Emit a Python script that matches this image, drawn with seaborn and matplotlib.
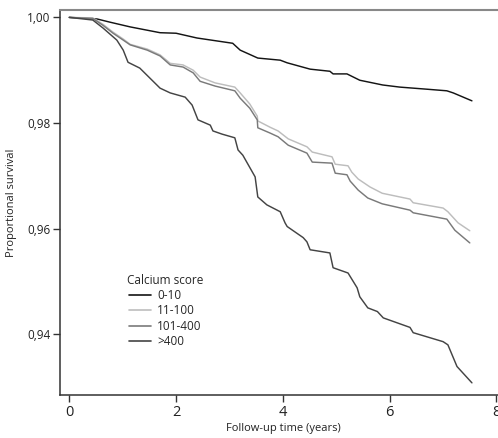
import matplotlib
matplotlib.use("Agg")
import matplotlib.pyplot as plt
import seaborn as sns
import pandas as pd
from matplotlib.lines import Line2D

# ---- data ----
groups = ["0-10", "11-100", "101-400", ">400"]

t_0_10 = [0.0, 0.52, 0.76, 1.14, 1.70, 2.00, 2.39, 3.06, 3.20, 3.53, 3.95, 4.08, 4.51, 4.88,
          4.94, 5.20, 5.44, 5.87, 6.19, 6.70, 7.07, 7.19, 7.54]
s_0_10 = [1.0000, 0.9997, 0.9991, 0.9982, 0.9971, 0.9970, 0.9961, 0.9951, 0.9938, 0.9923,
          0.9919, 0.9914, 0.9902, 0.9898, 0.9893, 0.9893, 0.9881, 0.9872, 0.9868, 0.9864,
          0.9861, 0.9857, 0.9842]

t_11_100 = [0.0, 0.44, 0.63, 0.82, 1.01, 1.14, 1.46, 1.70, 1.89, 2.13, 2.32, 2.45, 2.73, 3.10,
            3.20, 3.38, 3.52, 3.53, 3.76, 3.91, 4.10, 4.45, 4.55, 4.92, 4.98, 5.22, 5.29, 5.41,
            5.63, 5.86, 6.38, 6.44, 7.00, 7.09, 7.28, 7.50]
s_11_100 = [1.0000, 0.9999, 0.9987, 0.9972, 0.9959, 0.9949, 0.9940, 0.9929, 0.9913, 0.9910,
            0.9900, 0.9887, 0.9876, 0.9868, 0.9857, 0.9836, 0.9813, 0.9804, 0.9792, 0.9785,
            0.9770, 0.9755, 0.9745, 0.9736, 0.9722, 0.9719, 0.9707, 0.9694, 0.9679, 0.9667,
            0.9656, 0.9649, 0.9639, 0.9632, 0.9611, 0.9596]

t_101_400 = [0.0, 0.44, 0.63, 0.82, 1.01, 1.14, 1.46, 1.70, 1.89, 2.13, 2.32, 2.45, 2.73, 3.10,
             3.20, 3.38, 3.52, 3.53, 3.76, 3.91, 4.10, 4.45, 4.55, 4.92, 4.98, 5.20, 5.26, 5.41,
             5.59, 5.86, 6.38, 6.44, 7.07, 7.22, 7.50]
s_101_400 = [1.0000, 0.9998, 0.9985, 0.9970, 0.9957, 0.9948, 0.9938, 0.9927, 0.9910, 0.9906,
             0.9895, 0.9879, 0.9870, 0.9861, 0.9847, 0.9828, 0.9806, 0.9791, 0.9781, 0.9774,
             0.9758, 0.9743, 0.9726, 0.9724, 0.9705, 0.9702, 0.9690, 0.9673, 0.9658, 0.9647,
             0.9635, 0.9630, 0.9618, 0.9597, 0.9573]

t_400 = [0.0, 0.44, 0.63, 0.89, 1.01, 1.10, 1.32, 1.51, 1.70, 1.89, 2.17, 2.30, 2.41, 2.64,
         2.69, 2.86, 3.10, 3.16, 3.25, 3.48, 3.53, 3.70, 3.95, 4.04, 4.08, 4.38, 4.45, 4.51,
         4.88, 4.94, 5.22, 5.39, 5.44, 5.59, 5.77, 5.88, 6.38, 6.44, 7.00, 7.09, 7.26, 7.54]
s_400 = [1.0000, 0.9995, 0.9980, 0.9957, 0.9938, 0.9915, 0.9904, 0.9885, 0.9866, 0.9857,
         0.9849, 0.9834, 0.9806, 0.9796, 0.9785, 0.9779, 0.9772, 0.9749, 0.9739, 0.9698,
         0.9660, 0.9645, 0.9632, 0.9611, 0.9604, 0.9583, 0.9575, 0.9560, 0.9554, 0.9526,
         0.9516, 0.9488, 0.9471, 0.9450, 0.9443, 0.9431, 0.9413, 0.9403, 0.9386, 0.9380,
         0.9339, 0.9308]

xticks = [0, 2, 4, 6, 8]
yticks = [0.94, 0.96, 0.98, 1.00]
ytick_labels = ["0,94", "0,96", "0,98", "1,00"]

colors = ["#141414", "#bdbdbd", "#7a7a7a", "#444444"]

# ---- build table ----
frames = []
for g, t, s in zip(groups, [t_0_10, t_11_100, t_101_400, t_400],
                   [s_0_10, s_11_100, s_101_400, s_400]):
    frames.append(pd.DataFrame({"time": t, "surv": s, "group": g}))
df = pd.concat(frames, ignore_index=True)

sns.set_style("white")
plt.rcParams['font.family'] = ['Open Sans', 'DejaVu Sans']

fig = plt.figure(figsize=(4.98, 4.38), dpi=100)
ax_w = (8.6 + 0.174) * 53.4 / 498
ax = fig.add_axes([60 / 498, 43 / 438, ax_w, 385 / 438])

sns.lineplot(data=df, x="time", y="surv", hue="group", hue_order=groups,
             palette=colors, linewidth=1.05, ax=ax, legend=False, estimator=None,
             sort=False)

ax.set_xlim(-0.174, 8.6)
ax.set_ylim(0.9285, 1.0014)

ax.set_xticks(xticks)
ax.set_xticklabels([str(v) for v in xticks], fontsize=10.5)
ax.set_yticks(yticks)
ax.set_yticklabels(ytick_labels, fontsize=8.5)
ax.tick_params(axis="both", direction="out", length=5, width=1, color="#333333",
               colors="#222222", left=True, bottom=True, pad=2)

for side in ["left", "bottom"]:
    ax.spines[side].set_color("#333333")
    ax.spines[side].set_linewidth(1.1)
ax.spines["top"].set_color("#888888")
ax.spines["top"].set_linewidth(1.5)
ax.spines["right"].set_visible(False)

ax.set_xlabel("Follow-up time (years)", fontsize=8, color="#222222")
ax.set_ylabel("Proportional survival", fontsize=8, color="#222222")
ax.xaxis.set_label_coords((4 + 0.174) / (8.6 + 0.174), -0.072)
ax.yaxis.set_label_coords(-0.092, 0.5)

handles = [Line2D([0], [0], color=c, lw=1.2) for c in colors]
leg = fig.legend(handles, groups, title="Calcium score", loc="center",
                 bbox_to_anchor=(165 / 498, 1 - 311 / 438), frameon=False,
                 fontsize=8.5, title_fontsize=8.5, handlelength=1.9,
                 handletextpad=0.5, labelspacing=0.2, borderpad=0.2)

fig.savefig("out.png", dpi=100)
